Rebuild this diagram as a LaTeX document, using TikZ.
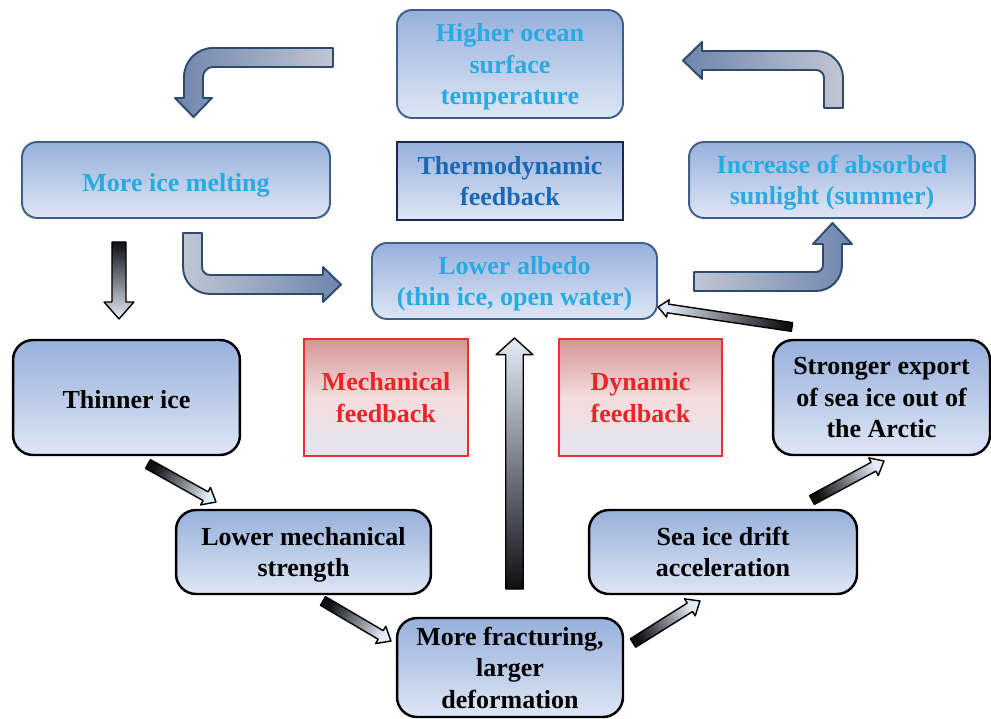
\documentclass[tikz,border=0pt]{standalone}
\usepackage{fontspec}
\setmainfont{Liberation Serif}
\usetikzlibrary{calc,positioning}
\definecolor{boxtop}{RGB}{151,176,220}
\definecolor{boxbot}{RGB}{222,230,244}
\definecolor{boxedge}{RGB}{61,95,138}
\definecolor{navy}{RGB}{30,36,88}
\definecolor{icetext}{RGB}{41,171,226}
\definecolor{thermotext}{RGB}{25,105,180}
\definecolor{redline}{RGB}{238,45,45}
\definecolor{redtext}{RGB}{236,36,39}
\definecolor{redtop}{RGB}{212,150,150}
\definecolor{redmid}{RGB}{245,220,220}
\definecolor{redbot}{RGB}{226,230,242}
\definecolor{bentedge}{RGB}{45,75,112}
\definecolor{bentdark}{RGB}{110,133,172}
\definecolor{bentlight}{RGB}{192,198,210}
\definecolor{slimdark}{RGB}{15,15,18}
\definecolor{slimlight}{RGB}{228,236,247}
\tikzset{%
  boxtext/.style = { align=center, inner sep=2pt, text depth=0pt, execute at begin node={\rule{0pt}{13pt}}, font=\bfseries\fontsize{14.8}{17.9}\selectfont },
  bluebox/.style = { boxtext, draw=boxedge, line width=1.1pt, rounded corners=3mm, top color=boxtop, bottom color=boxbot, text=icetext },
  blackbox/.style = { boxtext, draw=black, line width=1.4pt, rounded corners=4mm, top color=boxtop, bottom color=boxbot, text=black },
  thermobox/.style = { boxtext, draw=navy, line width=1.5pt, top color=boxtop, bottom color=boxbot, text=thermotext },
  redbox/.style = { boxtext, draw=redline, line width=1.2pt, top color=redtop, bottom color=redbot, middle color=redmid, text=redtext },
  bent/.style = { draw=bentedge, line width=1.1pt, line join=round },
  slim/.style = { draw=black, line width=0.8pt, line join=round, top color=slimlight, bottom color=slimdark }
}
% thin shaded arrow: tail, tip, half shaft, half head, head length
\newcommand{\slimarrow}[5]{%
  \path let \p1=($(#2)-(#1)$), \n1={atan2(\y1,\x1)} in
    \pgfextra{\pgfmathsetmacro\slimang{\n1-90}\global\let\slimang\slimang};
  \draw[slim, shading angle=\slimang] let \p1=($(#2)-(#1)$), \n1={atan2(\y1,\x1)}, \n2={veclen(\x1,\y1)} in
    ($(#1)+({\n1+90}:#3)$) -- ($(#1)+({\n1}:{\n2-#5})+({\n1+90}:#3)$)
    -- ($(#1)+({\n1}:{\n2-#5})+({\n1+90}:#4)$) -- (#2)
    -- ($(#1)+({\n1}:{\n2-#5})+({\n1-90}:#4)$) -- ($(#1)+({\n1}:{\n2-#5})+({\n1-90}:#3)$)
    -- ($(#1)+({\n1-90}:#3)$) -- cycle;
}

\begin{document}
\begin{tikzpicture}[x=0.02cm, y=-0.02cm]

  \useasboundingbox (0,0) rectangle (991,719);

  % Thermodynamic feedback
  \node[bluebox, minimum width=4.52cm, minimum height=2.16cm] (ocean) at (510,64) {Higher ocean\\surface\\temperature};
  \node[thermobox, minimum width=4.52cm, minimum height=1.56cm] (thermo) at (510,181) {Thermodynamic\\feedback};
  \node[bluebox, minimum width=6.16cm, minimum height=1.52cm] (melt) at (176,180) {More ice melting};
  \node[bluebox, minimum width=5.72cm, minimum height=1.52cm] (sun) at (832,180) {Increase of absorbed\\sunlight (summer)};
  \node[bluebox, minimum width=5.70cm, minimum height=1.52cm] (albedo) at (514.5,281) {Lower albedo\\(thin ice, open water)};

  % Mechanical and dynamic feedback
  \node[blackbox, minimum width=4.54cm, minimum height=2.30cm] (thinner) at (126.5,397.5) {Thinner ice};
  \node[redbox, minimum width=3.28cm, minimum height=2.34cm] (mech) at (386,397.5) {Mechanical\\feedback};
  \node[redbox, minimum width=3.26cm, minimum height=2.34cm] (dyn) at (640.5,397.5) {Dynamic\\feedback};
  \node[blackbox, minimum width=4.34cm, minimum height=2.30cm] (export) at (881.5,397.5) {Stronger export\\of sea ice out of\\the Arctic};
  \node[blackbox, minimum width=5.10cm, minimum height=1.68cm] (strength) at (303.5,552) {Lower mechanical\\strength};
  \node[blackbox, minimum width=5.36cm, minimum height=1.68cm] (drift) at (723,552) {Sea ice drift\\acceleration};
  \node[blackbox, minimum width=4.52cm, minimum height=1.98cm] (fracture) at (510,667.5) {More fracturing,\\larger\\deformation};

  % Bent arrows
  \draw[bent, left color=bentdark, right color=bentlight]
    (333,48) -- (213,48) arc[start angle=90, end angle=180, radius=0.58cm] -- (184,98) -- (175,98) -- (193.5,117)
    -- (212,98) -- (203,98) -- (203,77) arc[start angle=180, end angle=90, radius=0.2cm] -- (333,67) -- cycle;
  \draw[bent, left color=bentdark, right color=bentlight]
    (843,108) -- (843,78) arc[start angle=0, end angle=90, radius=0.54cm] -- (702,51) -- (702,42) -- (683,60.5)
    -- (702,79) -- (702,70) -- (816,70) arc[start angle=90, end angle=0, radius=0.16cm] -- (824,108) -- cycle;
  \draw[bent, left color=bentlight, right color=bentdark]
    (183,233) -- (183,267) arc[start angle=180, end angle=270, radius=0.54cm] -- (323,294) -- (323,302) -- (341,284.5)
    -- (323,267) -- (323,275) -- (210,275) arc[start angle=270, end angle=180, radius=0.16cm] -- (202,233) -- cycle;
  \draw[bent, left color=bentlight, right color=bentdark]
    (694,272) -- (816,272) arc[start angle=270, end angle=360, radius=0.14cm] -- (823,244) -- (813,244) -- (832.5,223)
    -- (852,244) -- (842,244) -- (842,265) arc[start angle=0, end angle=-90, radius=0.52cm] -- (694,291) -- cycle;

  % Thin arrows
  \coordinate (down0) at (119,242);
  \coordinate (down1) at (119,319);
  \coordinate (up0) at (514.5,589);
  \coordinate (up1) at (514.5,338);
  \coordinate (d1) at (148,464);
  \coordinate (d2) at (216,502);
  \coordinate (d3) at (323,601);
  \coordinate (d4) at (391,641);
  \coordinate (d5) at (633,643);
  \coordinate (d6) at (700,601);
  \coordinate (d7) at (812,500);
  \coordinate (d8) at (884,461);
  \coordinate (back0) at (792,327);
  \coordinate (back1) at (658,307);

  \slimarrow{down0}{down1}{4pt}{8.5pt}{9.7pt}
  \slimarrow{up0}{up1}{5pt}{10.5pt}{9.5pt}
  \foreach \a/\b in {d1/d2, d3/d4, d5/d6, d7/d8} {
    \slimarrow{\a}{\b}{2.85pt}{5.7pt}{6.8pt}
  }
  \slimarrow{back0}{back1}{2.5pt}{5pt}{5.7pt}

\end{tikzpicture}
\end{document}
